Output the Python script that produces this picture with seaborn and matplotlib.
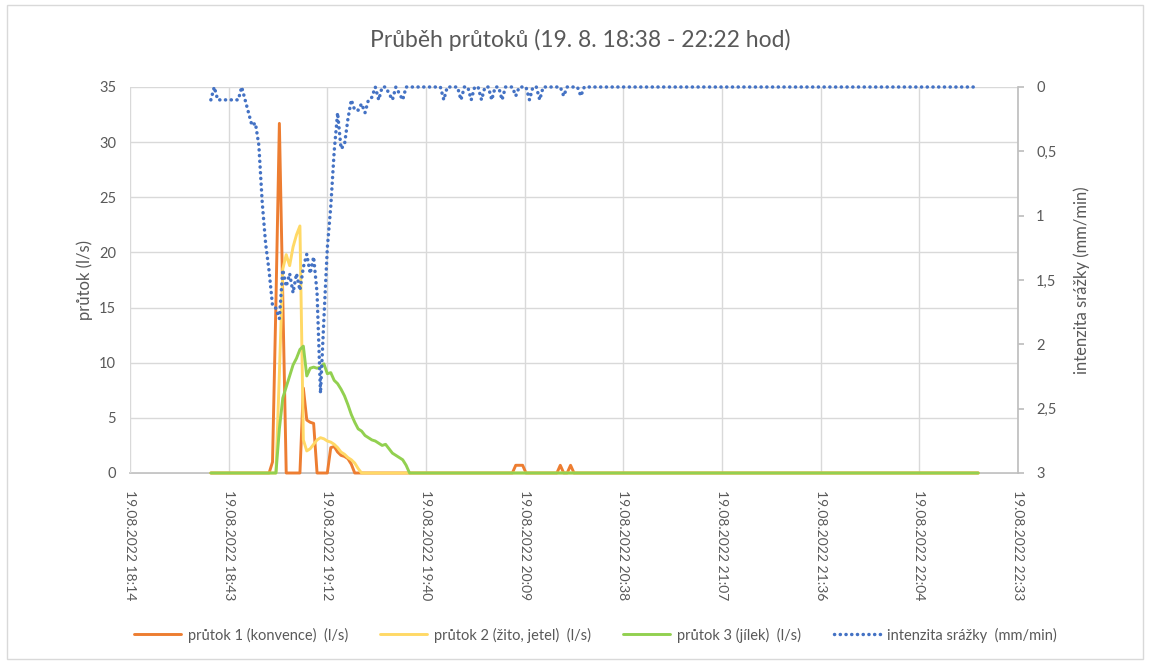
import numpy as np
import pandas as pd
import matplotlib
matplotlib.use("Agg")
import matplotlib.pyplot as plt
from matplotlib.patches import Rectangle
import seaborn as sns

# ---------------- data (1-minute steps from 19.08.2022 18:38) ----------------
start_time = "2022-08-19 18:38"

flow1 = [  # průtok 1 (konvence) l/s
    0, 0, 0, 0, 0, 0, 0, 0, 0, 0, 0, 0, 0, 0, 0,
    0, 0, 0, 1.0, 15.5, 31.7, 15.8, 0, 0, 0, 0, 0, 7.7, 4.8, 4.6,
    4.5, 0, 0, 0, 0, 2.3, 2.4, 1.9, 1.6, 1.5, 1.3, 0.8, 0, 0, 0,
    0, 0, 0, 0, 0, 0, 0, 0, 0, 0, 0, 0, 0, 0, 0,
    0, 0, 0, 0, 0, 0, 0, 0, 0, 0, 0, 0, 0, 0, 0,
    0, 0, 0, 0, 0, 0, 0, 0, 0, 0, 0, 0, 0, 0, 0.7,
    0.7, 0.7, 0, 0, 0, 0, 0, 0, 0, 0, 0, 0, 0.7, 0, 0,
    0.7, 0, 0, 0, 0, 0, 0, 0, 0, 0, 0, 0, 0, 0, 0,
    0, 0, 0, 0, 0, 0, 0, 0, 0, 0, 0, 0, 0, 0, 0,
    0, 0, 0, 0, 0, 0, 0, 0, 0, 0, 0, 0, 0, 0, 0,
    0, 0, 0, 0, 0, 0, 0, 0, 0, 0, 0, 0, 0, 0, 0,
    0, 0, 0, 0, 0, 0, 0, 0, 0, 0, 0, 0, 0, 0, 0,
    0, 0, 0, 0, 0, 0, 0, 0, 0, 0, 0, 0, 0, 0, 0,
    0, 0, 0, 0, 0, 0, 0, 0, 0, 0, 0, 0, 0, 0, 0,
    0, 0, 0, 0, 0, 0, 0, 0, 0, 0, 0, 0, 0, 0, 0,
]

flow2 = [  # průtok 2 (žito, jetel) l/s
    0, 0, 0, 0, 0, 0, 0, 0, 0, 0, 0, 0, 0, 0, 0,
    0, 0, 0, 0, 0, 9.0, 18.5, 19.8, 18.8, 20.5, 21.6, 22.4, 3.0, 2.0, 2.2,
    2.6, 3.0, 3.2, 3.1, 2.9, 2.8, 2.6, 2.3, 1.9, 1.7, 1.4, 1.2, 0.9, 0.4, 0,
    0, 0, 0, 0, 0, 0, 0, 0, 0, 0, 0, 0, 0, 0, 0,
    0, 0, 0, 0, 0, 0, 0, 0, 0, 0, 0, 0, 0, 0, 0,
    0, 0, 0, 0, 0, 0, 0, 0, 0, 0, 0, 0, 0, 0, 0,
    0, 0, 0, 0, 0, 0, 0, 0, 0, 0, 0, 0, 0, 0, 0,
    0, 0, 0, 0, 0, 0, 0, 0, 0, 0, 0, 0, 0, 0, 0,
    0, 0, 0, 0, 0, 0, 0, 0, 0, 0, 0, 0, 0, 0, 0,
    0, 0, 0, 0, 0, 0, 0, 0, 0, 0, 0, 0, 0, 0, 0,
    0, 0, 0, 0, 0, 0, 0, 0, 0, 0, 0, 0, 0, 0, 0,
    0, 0, 0, 0, 0, 0, 0, 0, 0, 0, 0, 0, 0, 0, 0,
    0, 0, 0, 0, 0, 0, 0, 0, 0, 0, 0, 0, 0, 0, 0,
    0, 0, 0, 0, 0, 0, 0, 0, 0, 0, 0, 0, 0, 0, 0,
    0, 0, 0, 0, 0, 0, 0, 0, 0, 0, 0, 0, 0, 0, 0,
]

flow3 = [  # průtok 3 (jílek) l/s
    0, 0, 0, 0, 0, 0, 0, 0, 0, 0, 0, 0, 0, 0, 0,
    0, 0, 0, 0, 0, 4.0, 6.8, 7.8, 8.8, 9.8, 10.4, 11.2, 11.5, 8.8, 9.5,
    9.6, 9.5, 9.6, 9.9, 9.0, 9.1, 8.4, 8.1, 7.6, 7.0, 6.2, 5.3, 4.6, 4.0, 3.8,
    3.4, 3.2, 3.0, 2.9, 2.7, 2.5, 2.6, 2.2, 1.8, 1.6, 1.4, 1.2, 0.7, 0, 0,
    0, 0, 0, 0, 0, 0, 0, 0, 0, 0, 0, 0, 0, 0, 0,
    0, 0, 0, 0, 0, 0, 0, 0, 0, 0, 0, 0, 0, 0, 0,
    0, 0, 0, 0, 0, 0, 0, 0, 0, 0, 0, 0, 0, 0, 0,
    0, 0, 0, 0, 0, 0, 0, 0, 0, 0, 0, 0, 0, 0, 0,
    0, 0, 0, 0, 0, 0, 0, 0, 0, 0, 0, 0, 0, 0, 0,
    0, 0, 0, 0, 0, 0, 0, 0, 0, 0, 0, 0, 0, 0, 0,
    0, 0, 0, 0, 0, 0, 0, 0, 0, 0, 0, 0, 0, 0, 0,
    0, 0, 0, 0, 0, 0, 0, 0, 0, 0, 0, 0, 0, 0, 0,
    0, 0, 0, 0, 0, 0, 0, 0, 0, 0, 0, 0, 0, 0, 0,
    0, 0, 0, 0, 0, 0, 0, 0, 0, 0, 0, 0, 0, 0, 0,
    0, 0, 0, 0, 0, 0, 0, 0, 0, 0, 0, 0, 0, 0, 0,
]

rain = [  # intenzita srážky mm/min
    0.1, 0.0, 0.1, 0.1, 0.1, 0.1, 0.1, 0.1, 0.1, 0.0, 0.1, 0.2, 0.3, 0.28, 0.45,
    0.9, 1.22, 1.43, 1.7, 1.72, 1.8, 1.42, 1.55, 1.45, 1.6, 1.45, 1.58, 1.4, 1.3, 1.45,
    1.32, 1.6, 2.38, 1.8, 1.25, 0.93, 0.5, 0.2, 0.48, 0.45, 0.25, 0.1, 0.18, 0.18, 0.13,
    0.2, 0.1, 0.08, 0.0, 0.1, 0.0, 0.0, 0.05, 0.1, 0.0, 0.05, 0.1, 0, 0, 0,
    0, 0, 0, 0, 0, 0, 0, 0, 0.1, 0, 0, 0, 0, 0.1, 0,
    0, 0.1, 0, 0, 0.1, 0, 0, 0.1, 0, 0, 0.1, 0, 0, 0, 0.07,
    0, 0, 0, 0.1, 0, 0, 0.1, 0, 0, 0, 0, 0, 0, 0.07, 0,
    0, 0, 0, 0.07, 0, 0, 0, 0, 0, 0, 0, 0, 0, 0, 0,
    0, 0, 0, 0, 0, 0, 0, 0, 0, 0, 0, 0, 0, 0, 0,
    0, 0, 0, 0, 0, 0, 0, 0, 0, 0, 0, 0, 0, 0, 0,
    0, 0, 0, 0, 0, 0, 0, 0, 0, 0, 0, 0, 0, 0, 0,
    0, 0, 0, 0, 0, 0, 0, 0, 0, 0, 0, 0, 0, 0, 0,
    0, 0, 0, 0, 0, 0, 0, 0, 0, 0, 0, 0, 0, 0, 0,
    0, 0, 0, 0, 0, 0, 0, 0, 0, 0, 0, 0, 0, 0, 0,
    0, 0, 0, 0, 0, 0, 0, 0, 0, 0, 0, 0, 0, 0, 0,
]

series_labels = ["průtok 1 (konvence)  (l/s)", "průtok 2 (žito, jetel)  (l/s)",
                 "průtok 3 (jílek)  (l/s)", "intenzita srážky  (mm/min)"]
x_tick_labels = ["19.08.2022 18:14", "19.08.2022 18:43", "19.08.2022 19:12",
                 "19.08.2022 19:40", "19.08.2022 20:09", "19.08.2022 20:38",
                 "19.08.2022 21:07", "19.08.2022 21:36", "19.08.2022 22:04",
                 "19.08.2022 22:33"]
left_ticks = [0, 5, 10, 15, 20, 25, 30, 35]
right_ticks = [0, 0.5, 1, 1.5, 2, 2.5, 3]
right_tick_labels = ["0", "0,5", "1", "1,5", "2", "2,5", "3"]
title = "Průběh průtoků (19. 8. 18:38 - 22:22 hod)"

# ---------------- build ----------------
times = pd.date_range(start_time, periods=len(flow1), freq="min")
df = pd.DataFrame({"t": times, "f1": flow1, "f2": flow2, "f3": flow3, "r": rain})
tick_pos = pd.date_range("2022-08-19 18:14:24", periods=len(x_tick_labels), freq="1728s")

sns.set_theme(style="white")
plt.rcParams["font.family"] = ["Lato", "DejaVu Sans"]
txt = "#595959"
grid = "#d9d9d9"

fig = plt.figure(figsize=(11.5, 6.64), dpi=100)
ax = fig.add_axes([130 / 1150, 1 - 473 / 664, (1018 - 130) / 1150, (473 - 87) / 664])
ax2 = ax.twinx()

c1, c2, c3, c4 = "#ED7D31", "#FFD966", "#92D050", "#4472C4"
lw = 2.1
sns.lineplot(data=df, x="t", y="f1", ax=ax, color=c1, lw=lw, label=series_labels[0],
             legend=False, clip_on=False)
sns.lineplot(data=df, x="t", y="f2", ax=ax, color=c2, lw=lw, label=series_labels[1],
             legend=False, clip_on=False)
sns.lineplot(data=df, x="t", y="f3", ax=ax, color=c3, lw=lw, label=series_labels[2],
             legend=False, clip_on=False)
sns.lineplot(data=df, x="t", y="r", ax=ax2, color=c4, lw=2.5, label=series_labels[3],
             legend=False, linestyle=(0, (0.05, 1.6)), dash_capstyle="round", clip_on=False)

ax.set_xlim(tick_pos[0], tick_pos[-1])
ax.set_ylim(0, 35)
ax2.set_ylim(3, 0)

ax.set_xticks(tick_pos)
ax.set_xticklabels(x_tick_labels, rotation=-90, ha="center", va="top", fontsize=10, color=txt)
ax.set_yticks(left_ticks)
ax.set_yticklabels([str(v) for v in left_ticks], fontsize=10.5, color=txt)
ax2.set_yticks(right_ticks)
ax2.set_yticklabels(right_tick_labels, fontsize=10.5, color=txt)

ax.grid(True, color=grid, lw=1.0)
ax.set_axisbelow(True)
for s in ["top", "left", "right"]:
    ax.spines[s].set_visible(False)
for s in ["top", "left", "bottom"]:
    ax2.spines[s].set_visible(False)
ax2.spines["right"].set_visible(True)
ax2.spines["right"].set_color("#bfbfbf")
ax2.spines["right"].set_zorder(0)
ax.spines["bottom"].set_color("#bfbfbf")
ax.spines["bottom"].set_zorder(0)
ax.tick_params(axis="y", length=0, pad=10)
ax.tick_params(axis="x", length=4, color="#bfbfbf", pad=8)
ax2.tick_params(axis="y", length=4, color="#bfbfbf", pad=9, direction="out", right=True)

ax.set_xlabel("")
ax.set_ylabel("průtok (l/s)", fontsize=12, color=txt, labelpad=4)
ax2.set_ylabel("intenzita srážky (mm/min)", fontsize=12, color=txt, labelpad=12, rotation=90)

fig.suptitle(title, x=0.505, y=1 - 40 / 664, va="center", fontsize=16.5, color=txt)

h1, l1 = ax.get_legend_handles_labels()
h2, l2 = ax2.get_legend_handles_labels()
fig.legend(h1 + h2, l1 + l2, loc="center", bbox_to_anchor=(0.518, 1 - 635 / 664), ncol=4,
           frameon=False, fontsize=10.5, handlelength=3.2, columnspacing=2.2,
           labelcolor=txt, handletextpad=0.5)

fig.patches.append(Rectangle((0.006, 0.008), 0.988, 0.984, transform=fig.transFigure,
                             fill=False, edgecolor=grid, lw=1.0))

fig.savefig("out.png", dpi=100)
